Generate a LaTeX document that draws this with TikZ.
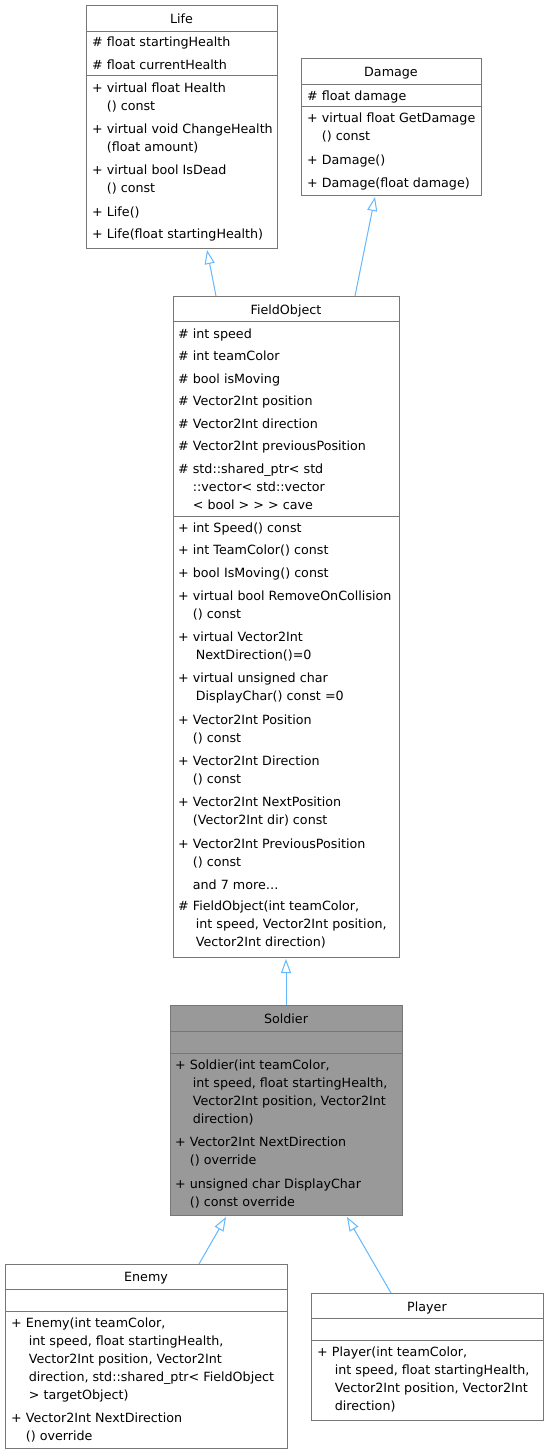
\documentclass[tikz,border=0pt]{standalone}
\usepackage{fontspec}
\setmainfont{DejaVu Sans}
\usetikzlibrary{arrows.meta}
\definecolor{edgeblue}{HTML}{63B8FF}
\definecolor{bord}{HTML}{777777}
\definecolor{soldierfill}{HTML}{999999}
\newcommand\TL[4]{\node[txt] (#1) at (#2,#3) {#4};}
\newcommand\TT[4]{\node[ttl] (#1) at (#2,#3) {#4};}
\newcommand\CI{\phantom{+ }}
\newcommand\CH{\phantom{\# }}
\newcommand\XI{\phantom{+ }\hspace{3pt}}
\begin{document}
\begin{tikzpicture}[x=1pt,y=-1pt,
  box/.style={draw=bord, line width=0.9pt, fill=white, inner sep=0pt, outer sep=0pt, anchor=north west},
  sep/.style={draw=bord, line width=0.9pt},
  txt/.style={anchor=base west, inner sep=0pt, font=\fontsize{12.7}{15}\selectfont},
  ttl/.style={anchor=base, inner sep=0pt, font=\fontsize{12.7}{15}\selectfont},
  inh/.style={draw=edgeblue, line width=1pt, -{Triangle[open, fill=white, length=14pt, width=10pt]}}]
\useasboundingbox (0,0) rectangle (549,1456);
\fill[white] (0,0) rectangle (549,1456);

% ---------- Life ----------
\node[box, minimum width=191pt, minimum height=243pt] (life) at (86,5) {};
\draw[sep] (86,31) -- (277,31);
\draw[sep] (86,75) -- (277,75);
\TT{lifet}{181.5}{23.5}{Life}
\TL{life1}{92}{46}{\# float startingHealth}
\TL{life2}{92}{69}{\# float currentHealth}
\TL{life3}{92}{92}{+ virtual float Health}
\TL{life4}{92}{110}{\CI() const}
\TL{life5}{92}{133}{+ virtual void ChangeHealth}
\TL{life6}{92}{151}{\CI(float amount)}
\TL{life7}{92}{174}{+ virtual bool IsDead}
\TL{life8}{92}{192}{\CI() const}
\TL{life9}{92}{216}{+ Life()}
\TL{life10}{92}{238}{+ Life(float startingHealth)}

% ---------- Damage ----------
\node[box, minimum width=180pt, minimum height=137pt] (damage) at (301,58) {};
\draw[sep] (301,84) -- (481,84);
\draw[sep] (301,106) -- (481,106);
\TT{damt}{391}{76.5}{Damage}
\TL{dam1}{307}{100}{\# float damage}
\TL{dam2}{307}{122}{+ virtual float GetDamage}
\TL{dam3}{307}{140}{\CI() const}
\TL{dam4}{307}{164}{+ Damage()}
\TL{dam5}{307}{187}{+ Damage(float damage)}

% ---------- FieldObject ----------
\node[box, minimum width=226pt, minimum height=661pt] (fo) at (173,296) {};
\draw[sep] (173,321) -- (399,321);
\draw[sep] (173,516) -- (399,516);
\TT{fot}{286}{314.5}{FieldObject}
\TL{fo1}{178}{338}{\# int speed}
\TL{fo2}{178}{360}{\# int teamColor}
\TL{fo3}{178}{383}{\# bool isMoving}
\TL{fo4}{178}{405}{\# Vector2Int position}
\TL{fo5}{178}{428}{\# Vector2Int direction}
\TL{fo6}{178}{450}{\# Vector2Int previousPosition}
\TL{fo7}{178}{473}{\# std::shared\_ptr< std}
\TL{fo8}{178}{491}{\CH::vector< std::vector}
\TL{fo9}{178}{509}{\CH< bool > > > cave}
\TL{fo10}{178}{532}{+ int Speed() const}
\TL{fo11}{178}{554}{+ int TeamColor() const}
\TL{fo12}{178}{577}{+ bool IsMoving() const}
\TL{fo13}{178}{600}{+ virtual bool RemoveOnCollision}
\TL{fo14}{178}{618}{\CI() const}
\TL{fo15}{178}{641}{+ virtual Vector2Int}
\TL{fo16}{178}{659}{\XI NextDirection()=0}
\TL{fo17}{178}{682}{+ virtual unsigned char}
\TL{fo18}{178}{700}{\XI DisplayChar() const =0}
\TL{fo19}{178}{724}{+ Vector2Int Position}
\TL{fo20}{178}{742}{\CI() const}
\TL{fo21}{178}{765}{+ Vector2Int Direction}
\TL{fo22}{178}{783}{\CI() const}
\TL{fo23}{178}{806}{+ Vector2Int NextPosition}
\TL{fo24}{178}{824}{\CI(Vector2Int dir) const}
\TL{fo25}{178}{848}{+ Vector2Int PreviousPosition}
\TL{fo26}{178}{866}{\CI() const}
\TL{fo27}{178}{889}{\CI and 7 more…}
\TL{fo28}{178}{910}{\# FieldObject(int teamColor,}
\TL{fo29}{178}{928}{\XI int speed, Vector2Int position,}
\TL{fo30}{178}{946}{\XI Vector2Int direction)}

% ---------- Soldier ----------
\node[box, fill=soldierfill, minimum width=232pt, minimum height=210pt] (soldier) at (170,1005) {};
\draw[sep] (170,1031) -- (402,1031);
\draw[sep] (170,1053) -- (402,1053);
\TT{solt}{286}{1023.5}{Soldier}
\TL{sol1}{175}{1069}{+ Soldier(int teamColor,}
\TL{sol2}{175}{1087}{\XI int speed, float startingHealth,}
\TL{sol3}{175}{1105}{\XI Vector2Int position, Vector2Int}
\TL{sol4}{175}{1123}{\XI direction)}
\TL{sol5}{175}{1146}{+ Vector2Int NextDirection}
\TL{sol6}{175}{1164}{\CI() override}
\TL{sol7}{175}{1188}{+ unsigned char DisplayChar}
\TL{sol8}{175}{1206}{\CI() const override}

% ---------- Enemy ----------
\node[box, minimum width=282pt, minimum height=184pt] (enemy) at (5,1264) {};
\draw[sep] (5,1289) -- (287,1289);
\draw[sep] (5,1311) -- (287,1311);
\TT{enet}{146}{1281.5}{Enemy}
\TL{ene1}{11}{1327}{+ Enemy(int teamColor,}
\TL{ene2}{11}{1345}{\XI int speed, float startingHealth,}
\TL{ene3}{11}{1363}{\XI Vector2Int position, Vector2Int}
\TL{ene4}{11}{1381}{\XI direction, std::shared\_ptr< FieldObject}
\TL{ene5}{11}{1399}{\XI > targetObject)}
\TL{ene6}{11}{1422}{+ Vector2Int NextDirection}
\TL{ene7}{11}{1440}{\CI() override}

% ---------- Player ----------
\node[box, minimum width=232pt, minimum height=127pt] (player) at (311,1293) {};
\draw[sep] (311,1318) -- (543,1318);
\draw[sep] (311,1340) -- (543,1340);
\TT{plat}{427}{1311.5}{Player}
\TL{pla1}{317}{1356}{+ Player(int teamColor,}
\TL{pla2}{317}{1374}{\XI int speed, float startingHealth,}
\TL{pla3}{317}{1392}{\XI Vector2Int position, Vector2Int}
\TL{pla4}{317}{1410}{\XI direction)}

% ---------- inheritance ----------
\draw[inh] ([xshift=43pt]fo.north west) -- ([xshift=121pt,yshift=-2pt]life.south west);
\draw[inh] ([xshift=182pt]fo.north west) -- ([xshift=74pt,yshift=-2pt]damage.south west);
\draw[inh] ([xshift=116pt]soldier.north west) -- ([xshift=113pt,yshift=-2pt]fo.south west);
\draw[inh] ([xshift=194pt]enemy.north west) -- ([xshift=56pt,yshift=-2pt]soldier.south west);
\draw[inh] ([xshift=80pt]player.north west) -- ([xshift=177pt,yshift=-2pt]soldier.south west);
\end{tikzpicture}
\end{document}
